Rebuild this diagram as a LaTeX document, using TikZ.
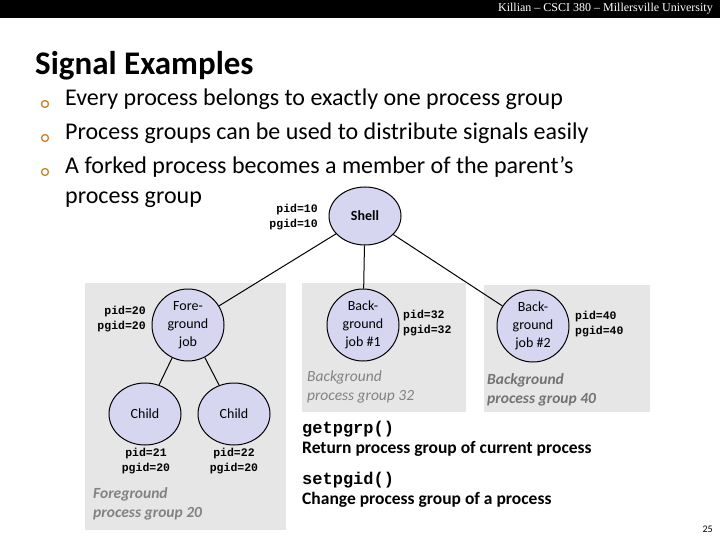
\documentclass[tikz,border=0pt]{standalone}
\usetikzlibrary{shapes.geometric}
\usepackage{fontspec}
\setmainfont{Carlito}
\newfontfamily\monofnt{Liberation Mono}
\newfontfamily\serffnt{Liberation Serif}
\definecolor{nodefill}{RGB}{214,214,240}
\definecolor{boxgray}{RGB}{230,230,230}
\definecolor{labgray}{RGB}{130,130,130}
\definecolor{bulletc}{RGB}{200,130,40}
\begin{document}
\begin{tikzpicture}[x=1pt,y=-1pt,
  proc/.style={ellipse,draw=black,line width=1pt,fill=nodefill,inner sep=0pt,align=center,font=\fontsize{14}{18}\selectfont},
  pid/.style={font=\monofnt\bfseries\fontsize{11.5}{14.5}\selectfont,align=right,inner sep=0pt},
  grp/.style={fill=boxgray,draw=none},
  glab/.style={font=\itshape\fontsize{15.5}{19}\selectfont,text=labgray,align=left,anchor=north west,inner sep=0pt},
  bul/.style={circle,draw=bulletc,line width=1.3pt,minimum size=7pt,inner sep=0pt},
  edge/.style={line width=1pt}]
\useasboundingbox (0,0) rectangle (720,540);
\fill[black] (0,0) rectangle (720,18);
\node[anchor=east,text=white,font=\serffnt\fontsize{12}{14}\selectfont,inner sep=0pt] (hdr) at (713,9) {Killian – CSCI 380 – Millersville University};
\node[anchor=west,font=\bfseries\fontsize{33}{38}\selectfont,inner sep=0pt] (title) at (35,66) {Signal Examples};
\foreach \yy/\nm in {104/b1,138/b2,172/b3}{
  \node[bul] (\nm) at (45,\yy) {};}
\node[anchor=north west,align=left,inner sep=0pt,font=\fontsize{24}{34}\selectfont] (btxt) at (65,89)
 {Every process belongs to exactly one process group\\Process groups can be used to distribute signals easily\\A forked process becomes a member of the parent's};
\node[anchor=west,inner sep=0pt,font=\fontsize{24}{28}\selectfont] (btxt2) at (65,200) {process group};
% boxes
\fill[grp] (85,283) rectangle (286,530);
\fill[grp] (302,283) rectangle (466,412);
\fill[grp] (484,285) rectangle (650,412);
% nodes
\node[proc,minimum width=72pt,minimum height=58pt,font=\bfseries\fontsize{14}{16}\selectfont] (shell) at (365,216) {Shell};
\node[proc,minimum width=72pt,minimum height=72pt] (fg) at (188,325) {Fore-\\ground\\job};
\node[proc,minimum width=72pt,minimum height=62pt] (c1) at (145,414) {Child};
\node[proc,minimum width=72pt,minimum height=62pt] (c2) at (234,414) {Child};
\node[proc,minimum width=72pt,minimum height=72pt] (bg1) at (363,325) {Back-\\ground\\job \#1};
\node[proc,minimum width=72pt,minimum height=72pt] (bg2) at (533,326) {Back-\\ground\\job \#2};
\draw[edge] (shell) -- (fg);
\draw[edge] (shell) -- (bg1);
\draw[edge] (shell) -- (bg2);
\draw[edge] (fg) -- (c1);
\draw[edge] (fg) -- (c2);
% pid labels
\node[pid,anchor=east] (p10) at (318,217) {pid=10\\pgid=10};
\node[pid,anchor=east] (p20) at (146,319) {pid=20\\pgid=20};
\node[pid,anchor=west,align=left] (p32) at (403,323) {pid=32\\pgid=32};
\node[pid,anchor=west,align=left] (p40) at (575,324) {pid=40\\pgid=40};
\node[pid,anchor=center,align=center] (p21) at (146,461) {pid=21\\pgid=20};
\node[pid,anchor=center,align=center] (p22) at (234,461) {pid=22\\pgid=20};
% group labels
\node[glab] (g20) at (93,487) {\bfseries Foreground\\\bfseries process group 20};
\node[glab] (g32) at (307,371) {Background\\process group 32};
\node[glab,text=gray!90!black] (g40) at (487,373) {\bfseries Background\\\bfseries process group 40};
% functions
\node[anchor=west,inner sep=0pt,font=\monofnt\bfseries\fontsize{17}{19}\selectfont] (f1) at (302,429) {getpgrp()};
\node[anchor=west,inner sep=0pt,font=\bfseries\fontsize{17.5}{19}\selectfont] (d1) at (302,449) {Return process group of current process};
\node[anchor=west,inner sep=0pt,font=\monofnt\bfseries\fontsize{17}{19}\selectfont] (f2) at (302,480) {setpgid()};
\node[anchor=west,inner sep=0pt,font=\bfseries\fontsize{17.5}{19}\selectfont] (d2) at (302,500) {Change process group of a process};
\node[anchor=east,inner sep=0pt,font=\fontsize{10}{12}\selectfont] (pg) at (713,529) {25};
\end{tikzpicture}
\end{document}
